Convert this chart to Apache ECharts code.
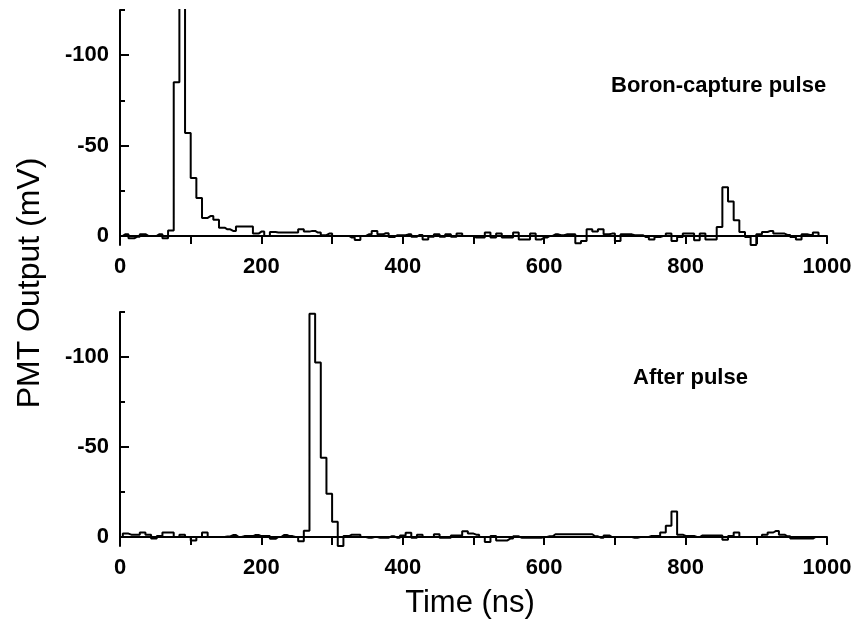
<!DOCTYPE html>
<html><head><meta charset="utf-8">
<script src="https://cdn.jsdelivr.net/npm/echarts@6/dist/echarts.min.js"></script>
<style>html,body{margin:0;padding:0;background:#fff}#c{width:857px;height:634px}</style>
</head><body><div id="c"></div>
<script>
// digitizer sample period (ns); sample i is at time i*sampleNs
const sampleNs = 8;

// PMT output (mV), one value per 8 ns sample, 0..992 ns
const boronPulse = [
  0, -1, 1.3, 0.5, -1, 0, 0, -1, 1.3, -3,            // 0-72
  -85, -140, -57, -32, -21, -10, -11, -9, -4.6, -3.7,  // 80-152
  -2.8, -5.2, -5.2, -5.2, -1.3, -2.4, 0, -2.2, -1.9, -1.9, // 160-232
  -1.9, -1.9, -3.7, -2.4, -2.8, -1.9, -0.4, -1.3, 0, 0, // 240-312
  0, 0.9, 2.2, 0, -0.9, -2.8, -0.9, -1.5, 0.6, -0.4,   // 320-392
  -0.4, -0.9, 0.4, -0.6, 1.9, 0.4, -0.9, 0.4, -0.9, 0.4, // 400-472
  -1.3, 0, 0, 0.9, 0.9, -1.9, 0.9, -1.3, 0.9, 0.9,     // 480-552
  -1.9, 1.9, 1.9, -1.3, 1.9, 0.9, 0, -0.9, -0.4, -0.9, // 560-632
  -0.9, 4, 2.8, -3.7, -2.4, -3.7, -0.9, -1.3, 2.8, -0.9, // 640-712
  -0.9, -0.4, -0.4, 0.6, 1.9, 0.6, 0, -1.3, 2.8, 0.6,  // 720-792
  -1.3, -1.3, 2.4, -1.3, 1.9, 1.9, -5, -27, -19, -8.7, // 800-872
  -2.2, 0.6, 5, -0.9, -2.2, -2.8, -1.3, -1.3, -0.6, 0.6, // 880-952
  1.9, -0.9, -0.6, -1.9, 0                             // 960-992
];
const afterPulse = [
  0, -1.9, -1.3, -1.3, -2.5, -1.3, 0.9, -0.6, -2.5, -2.5, // 0-72
  0, -1.3, 0, 1.9, 0, -2.5, 0, 0, 0, -0.3,             // 80-152
  -1.1, 0, -0.5, -0.5, -1.1, -0.5, -0.5, 1, 0, -1.1,   // 160-232
  -0.5, 0, 2.4, -3.5, -124, -97, -44, -24, -8.5, 5,    // 240-312
  -0.5, -1.3, -1.3, 0, 0.4, 0, 0.4, 0.4, -0.4, 0.4,    // 320-392
  -0.9, -2.3, 0.4, -1.3, 0, 0, -1.5, 0.4, 0.4, -0.9,   // 400-472
  -0.9, -3.2, -1.9, -1.3, 0, 2.8, -0.6, 1.9, 1.9, 0.9, // 480-552
  -0.4, 0.4, 0.4, 0.4, 0.4, 0, -0.4, -1.5, -1.5, -1.5, // 560-632
  -1.5, -1.5, -1.5, -1.5, -0.4, 0.4, -0.9, 0, 0, 0,    // 640-712
  0, 0.4, 0, 0, -0.6, -0.6, -2.5, -6.2, -14.2, -1.3,   // 720-792
  -0.6, -0.6, 0, -0.9, -0.9, -0.9, -0.9, 1.5, -0.6, -2.5, // 800-872
  0, 0, 0, 0, -1.3, -2.5, -3.4, -1.3, -0.4, 0.9,       // 880-952
  0.9, 0.9, 0.9, 0, 0                                  // 960-992
];

const xTickValues = [0, 100, 200, 300, 400, 500, 600, 700, 800, 900, 1000];
const xLabelValues = [0, 200, 400, 600, 800, 1000];
const yMajorTicks = [-100, -50, 0];
const yMinorTicks = [-125, -75, -25];
const panelNotes = ['Boron-capture pulse', 'After pulse'];
const yTitle = 'PMT Output (mV)';
const xTitle = 'Time (ns)';

const FONT = '"Liberation Sans", Arial, sans-serif';
const chart = echarts.init(document.getElementById('c'), null, {renderer: 'canvas'});

const grids = [
  {left: 120, width: 707, top: 10, height: 235},
  {left: 120, width: 707, top: 312, height: 234}
];
const lineCol = '#000';
const plain = v => String(v);
const xAxes = [], yAxes = [], series = [];
[boronPulse, afterPulse].forEach((vals, g) => {
  xAxes.push({
    gridIndex: g, type: 'value', min: 0, max: 1000, interval: 100,
    axisLine: {show: true, lineStyle: {color: lineCol, width: 2}},
    axisTick: {show: true, inside: false, length: 8, customValues: xTickValues, lineStyle: {color: lineCol, width: 2}},
    axisLabel: {customValues: xLabelValues, formatter: plain, color: '#000', fontFamily: FONT, fontWeight: 'bold', fontSize: 22, margin: 11},
    splitLine: {show: false}
  });
  yAxes.push({
    gridIndex: g, type: 'value', min: -125, max: 5, interval: 25, inverse: true, position: 'left',
    axisLine: {show: true, lineStyle: {color: lineCol, width: 2}},
    axisTick: {show: true, inside: true, length: 9, customValues: yMajorTicks, lineStyle: {color: lineCol, width: 2}},
    axisLabel: {customValues: yMajorTicks, formatter: plain, color: '#000', fontFamily: FONT, fontWeight: 'bold', fontSize: 22, margin: 11},
    splitLine: {show: false}
  });
  yAxes.push({
    gridIndex: g, type: 'value', min: -125, max: 5, interval: 25, inverse: true, position: 'left',
    axisLine: {show: false},
    axisTick: {show: true, inside: true, length: 5, customValues: yMinorTicks, lineStyle: {color: lineCol, width: 2}},
    axisLabel: {show: false},
    splitLine: {show: false}
  });
  series.push({
    type: 'line', xAxisIndex: g, yAxisIndex: g * 2, step: 'middle',
    symbol: 'none', clip: true, silent: true,
    lineStyle: {color: lineCol, width: 2},
    data: vals.map((v, i) => [i * sampleNs, v])
  });
});

chart.setOption({
  animation: false,
  backgroundColor: '#fff',
  grid: grids,
  xAxis: xAxes,
  yAxis: yAxes,
  series: series,
  graphic: [
    {type: 'text', x: 30, y: 283, rotation: Math.PI / 2,
     style: {text: yTitle, font: '32px ' + FONT, fill: '#000', align: 'center', verticalAlign: 'middle'}},
    {type: 'text', x: 470, y: 603,
     style: {text: xTitle, font: '31px ' + FONT, fill: '#000', align: 'center', verticalAlign: 'middle'}},
    {type: 'text', x: 611, y: 86,
     style: {text: panelNotes[0], font: 'bold 22px ' + FONT, fill: '#000', align: 'left', verticalAlign: 'middle'}},
    {type: 'text', x: 633, y: 378,
     style: {text: panelNotes[1], font: 'bold 22px ' + FONT, fill: '#000', align: 'left', verticalAlign: 'middle'}}
  ]
});
</script></body></html>
